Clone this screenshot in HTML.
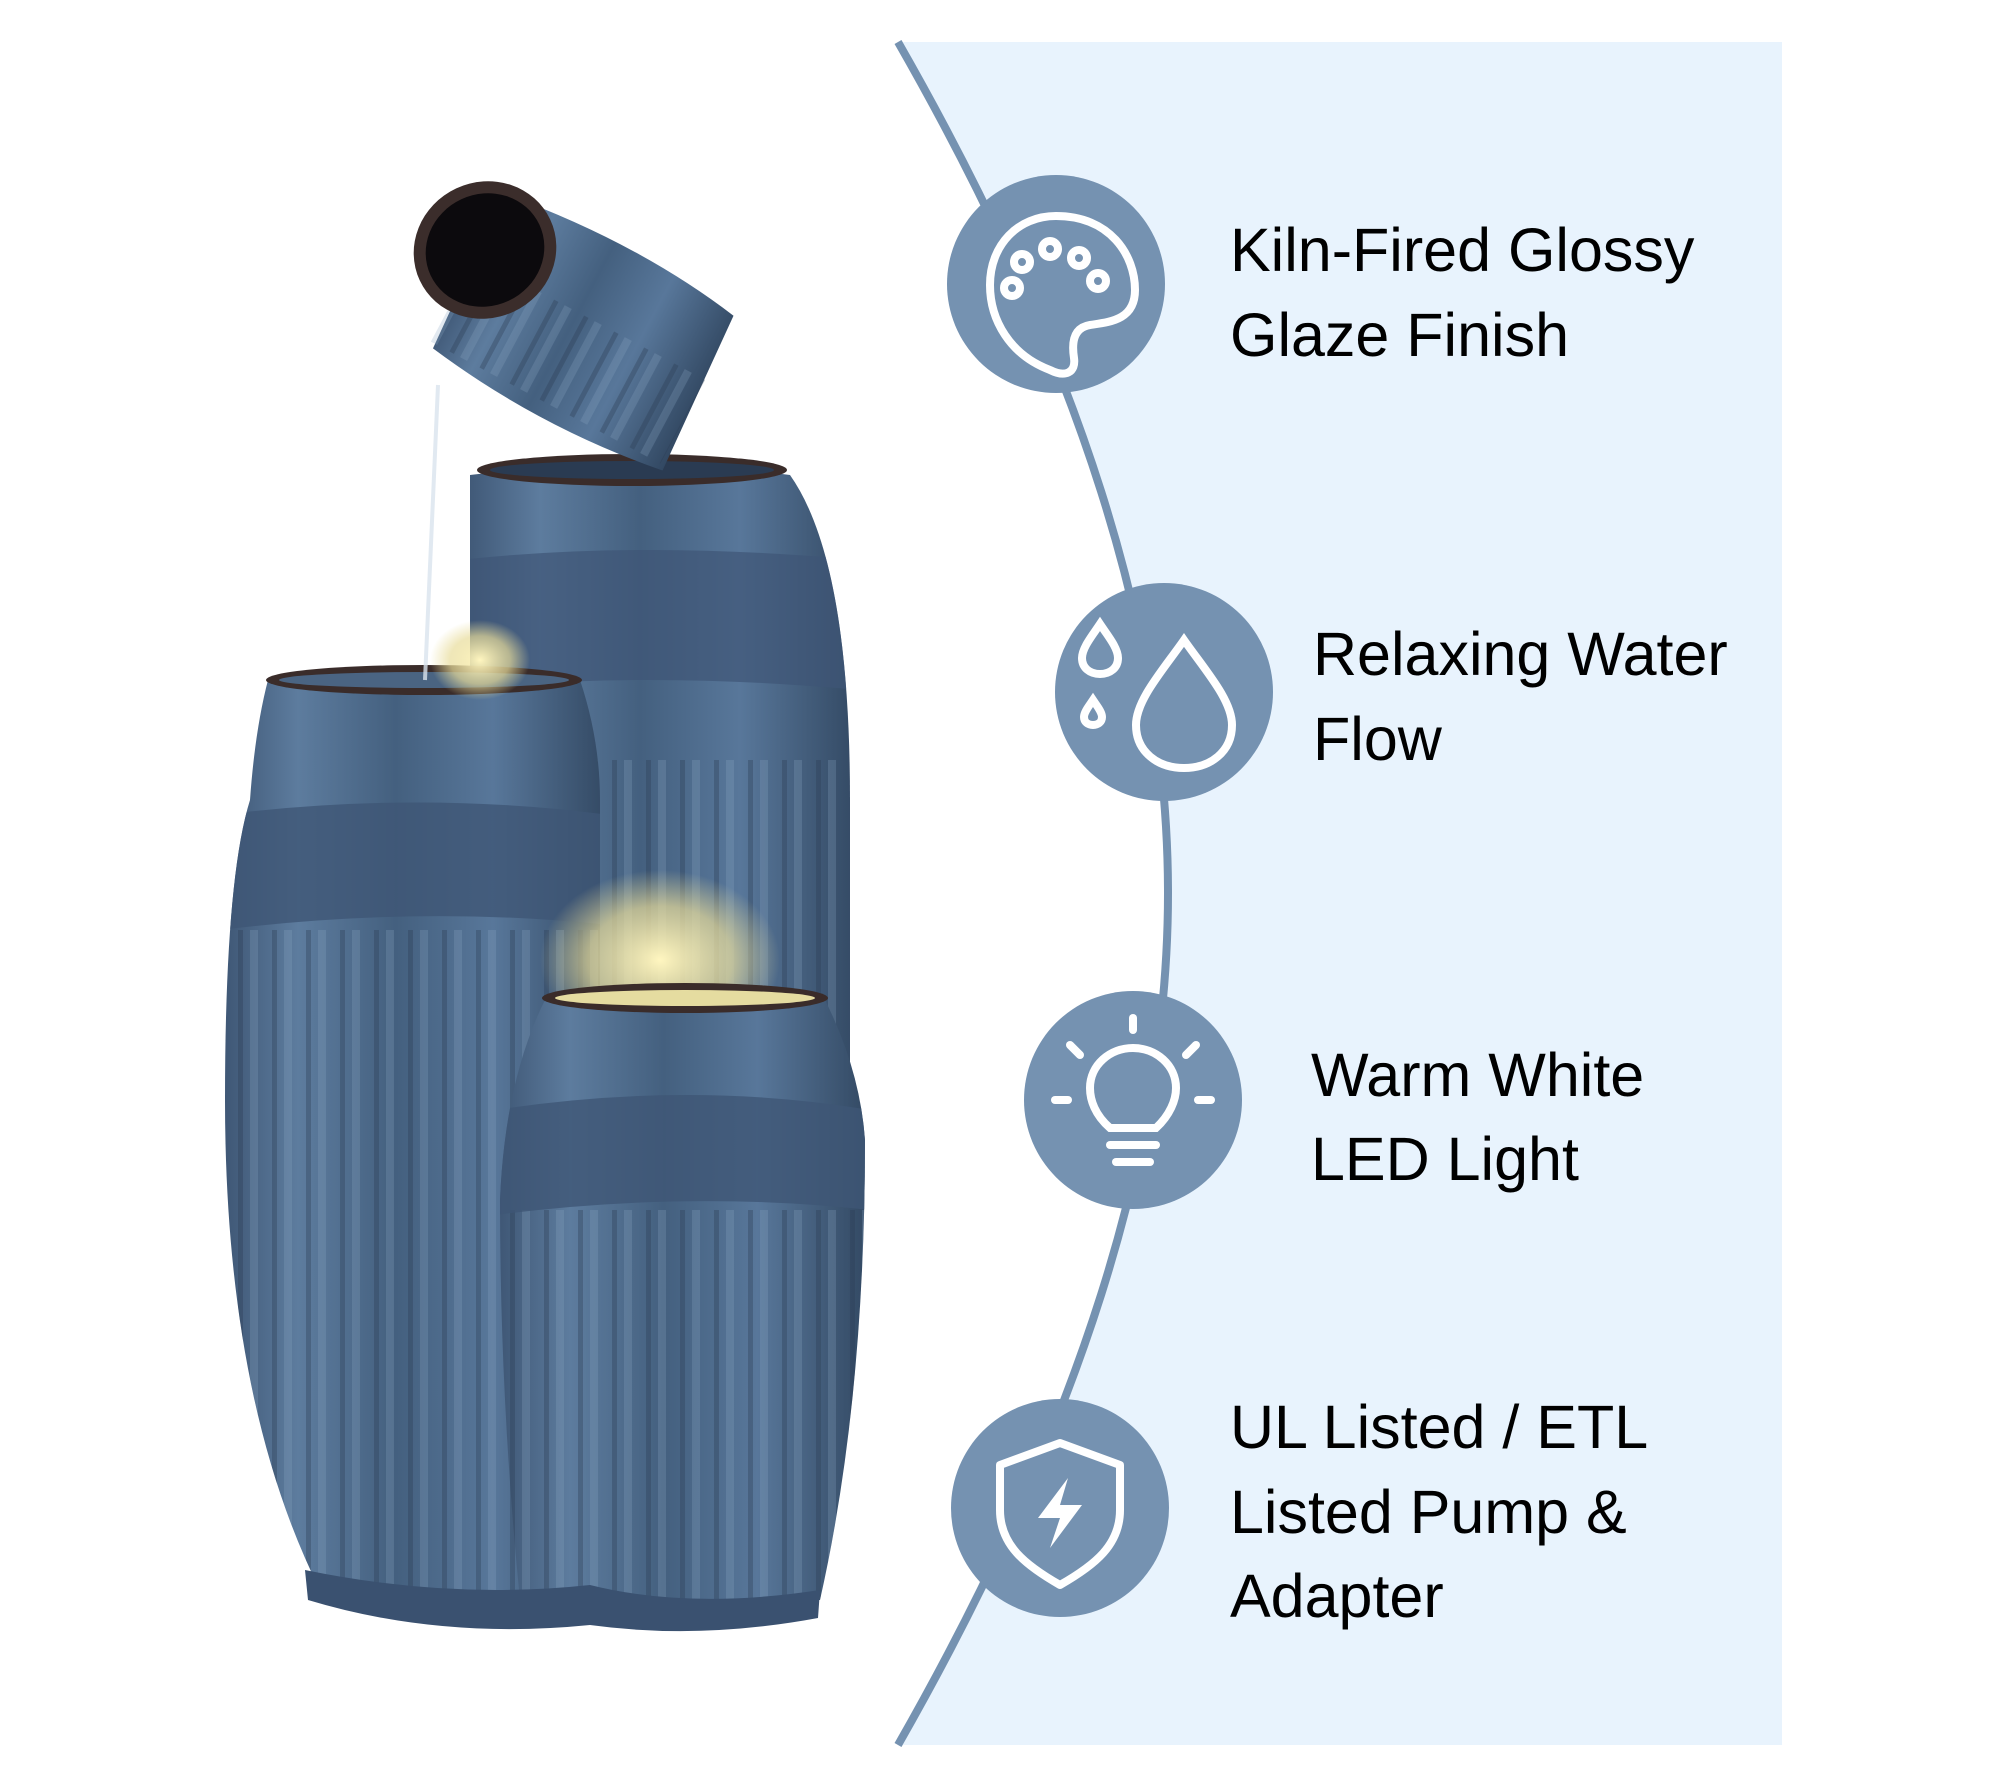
<!DOCTYPE html>
<html><head><meta charset="utf-8"><style>
html,body{margin:0;padding:0;background:#fff;}
svg{display:block}
text{font-family:"Liberation Sans",Arial,sans-serif;fill:#000;font-size:61px}
</style></head><body>
<svg width="1999" height="1778" viewBox="0 0 1999 1778" xmlns="http://www.w3.org/2000/svg">
<defs>
<linearGradient id="vg" x1="0" x2="1" y1="0" y2="0">
<stop offset="0" stop-color="#3d5573"/><stop offset="0.2" stop-color="#5d7c9e"/><stop offset="0.45" stop-color="#44607f"/><stop offset="0.7" stop-color="#58779a"/><stop offset="1" stop-color="#324862"/>
</linearGradient>
<pattern id="flute" width="34" height="40" patternUnits="userSpaceOnUse">
<rect x="0" width="5" height="40" fill="#2c3d52" opacity="0.35"/>
<rect x="12" width="8" height="40" fill="#8aa6c4" opacity="0.25"/>
</pattern>
<radialGradient id="glow" cx="0.5" cy="0.5" r="0.5"><stop offset="0" stop-color="#fff6c0"/><stop offset="0.6" stop-color="#e8dc9a" stop-opacity="0.7"/><stop offset="1" stop-color="#e8dc9a" stop-opacity="0"/></radialGradient>
<clipPath id="cBack"><path d="M470,475 Q640,455 790,475 Q850,560 850,800 L850,1280 L470,1280 Z"/></clipPath>
<clipPath id="cLeft"><path d="M268,680 Q420,668 580,680 Q600,740 600,800 L600,1590 L320,1590 Q225,1400 225,1100 Q225,880 250,800 Q255,730 268,680 Z"/></clipPath>
<clipPath id="cFront"><path d="M545,1000 Q690,985 825,1000 Q860,1070 865,1140 Q865,1400 820,1600 L520,1600 Q500,1400 500,1200 Q505,1080 545,1000 Z"/></clipPath>
</defs>
<path d="M898,42 C1080,360 1168,640 1168,893 C1168,1146 1080,1426 898,1745 L1782,1745 L1782,42 Z" fill="#e8f3fd"/>
<path d="M898,42 C1080,360 1168,640 1168,893 C1168,1146 1080,1426 898,1745" fill="none" stroke="#7592b1" stroke-width="8"/>

<g>
<g clip-path="url(#cBack)">
<rect x="460" y="450" width="400" height="840" fill="url(#vg)"/>
<rect x="470" y="760" width="380" height="520" fill="url(#flute)"/>
<path d="M460,560 Q640,540 860,560 L860,690 Q640,670 460,690 Z" fill="#3e5676" opacity="0.7"/>
</g>
<ellipse cx="632" cy="470" rx="155" ry="16" fill="#3a2c2a"/>
<ellipse cx="632" cy="470" rx="142" ry="9" fill="#2a3b52"/>
<g clip-path="url(#cLeft)">
<rect x="220" y="660" width="390" height="940" fill="url(#vg)"/>
<rect x="220" y="930" width="390" height="660" fill="url(#flute)"/>
<path d="M220,815 Q420,790 610,815 L610,925 Q420,905 220,930 Z" fill="#3e5676" opacity="0.8"/>
</g>
<ellipse cx="424" cy="680" rx="158" ry="15" fill="#3a2c2a"/>
<ellipse cx="424" cy="680" rx="145" ry="8" fill="#4a6482"/>
<ellipse cx="660" cy="960" rx="120" ry="90" fill="url(#glow)"/>
<ellipse cx="480" cy="660" rx="50" ry="40" fill="url(#glow)"/>
<g clip-path="url(#cFront)">
<rect x="495" y="985" width="375" height="620" fill="url(#vg)"/>
<rect x="495" y="1210" width="375" height="390" fill="url(#flute)"/>
<path d="M495,1110 Q690,1080 870,1110 L870,1210 Q690,1190 495,1215 Z" fill="#3e5676" opacity="0.8"/>
</g>
<ellipse cx="685" cy="998" rx="143" ry="15" fill="#3a2c2a"/>
<ellipse cx="685" cy="998" rx="130" ry="8" fill="#e5dca0"/>
<path d="M305,1570 Q450,1600 590,1585 Q690,1610 820,1590 L818,1618 Q700,1640 590,1625 Q440,1640 308,1600 Z" fill="#3a5170"/>
<g transform="rotate(28 590 330)">
<path d="M450,250 Q590,230 710,250 L720,420 Q590,440 460,420 Z" fill="url(#vg)"/>
<rect x="455" y="320" width="260" height="95" fill="url(#flute)"/>
</g>
<ellipse cx="485" cy="250" rx="72" ry="68" transform="rotate(-25 485 250)" fill="#3b2d2b"/>
<ellipse cx="485" cy="250" rx="60" ry="56" transform="rotate(-25 485 250)" fill="#0c0a0d"/>
<path d="M438,385 L425,680" stroke="#d9e4ee" stroke-width="4" fill="none" opacity="0.8"/>
</g>

<g fill="#7592b1">
<circle cx="1056" cy="284" r="109"/>
<circle cx="1164" cy="692" r="109"/>
<circle cx="1133" cy="1100" r="109"/>
<circle cx="1060" cy="1508" r="109"/>
</g>
<g fill="none" stroke="#fff" stroke-width="8">
<path d="M1056,216 C1110,216 1135,255 1135,290 C1135,320 1110,322 1090,325 C1072,328 1072,345 1074,358 C1076,372 1066,378 1050,370 C1010,355 990,320 990,285 C990,245 1018,216 1056,216 Z"/>
<circle cx="1012" cy="288" r="8"/><circle cx="1022" cy="262" r="8"/><circle cx="1050" cy="249" r="8"/><circle cx="1079" cy="258" r="8"/><circle cx="1098" cy="281" r="8"/>
</g>
<g fill="none" stroke="#fff" stroke-width="8">
<path d="M1184,640 C1205,670 1232,700 1232,725 C1232,752 1210,768 1184,768 C1158,768 1136,752 1136,725 C1136,700 1163,670 1184,640 Z"/>
<path d="M1100,624 C1108,636 1118,648 1118,658 C1118,668 1110,674 1100,674 C1090,674 1082,668 1082,658 C1082,648 1092,636 1100,624 Z"/>
<path d="M1093,700 C1097,706 1102,712 1102,717 C1102,722 1098,725 1093,725 C1088,725 1084,722 1084,717 C1084,712 1089,706 1093,700 Z"/>
</g>
<g fill="none" stroke="#fff" stroke-width="8" stroke-linecap="round">
<path d="M1110,1128 C1095,1115 1090,1100 1090,1088 C1090,1065 1110,1048 1133,1048 C1156,1048 1176,1065 1176,1088 C1176,1100 1170,1115 1156,1128 Z"/>
<line x1="1110" y1="1145" x2="1156" y2="1145"/><line x1="1116" y1="1162" x2="1150" y2="1162"/>
<line x1="1133" y1="1018" x2="1133" y2="1030"/><line x1="1070" y1="1045" x2="1080" y2="1055"/><line x1="1196" y1="1045" x2="1186" y2="1055"/>
<line x1="1055" y1="1100" x2="1068" y2="1100"/><line x1="1198" y1="1100" x2="1211" y2="1100"/>
</g>
<g fill="none" stroke="#fff" stroke-width="8" stroke-linejoin="round">
<path d="M1060,1443 L1120,1465 L1120,1510 C1120,1545 1095,1565 1060,1585 C1025,1565 1000,1545 1000,1510 L1000,1465 Z"/>
</g>
<path d="M1068,1478 L1038,1518 L1060,1518 L1050,1548 L1082,1505 L1060,1505 Z" fill="#fff"/>

<text x="1230" y="271">Kiln-Fired Glossy</text>
<text x="1230" y="356">Glaze Finish</text>
<text x="1313" y="675">Relaxing Water</text>
<text x="1313" y="760">Flow</text>
<text x="1311" y="1096">Warm White</text>
<text x="1311" y="1180">LED Light</text>
<text x="1230" y="1448">UL Listed / ETL</text>
<text x="1230" y="1533">Listed Pump &amp;</text>
<text x="1230" y="1617">Adapter</text>
</svg>
</body></html>
